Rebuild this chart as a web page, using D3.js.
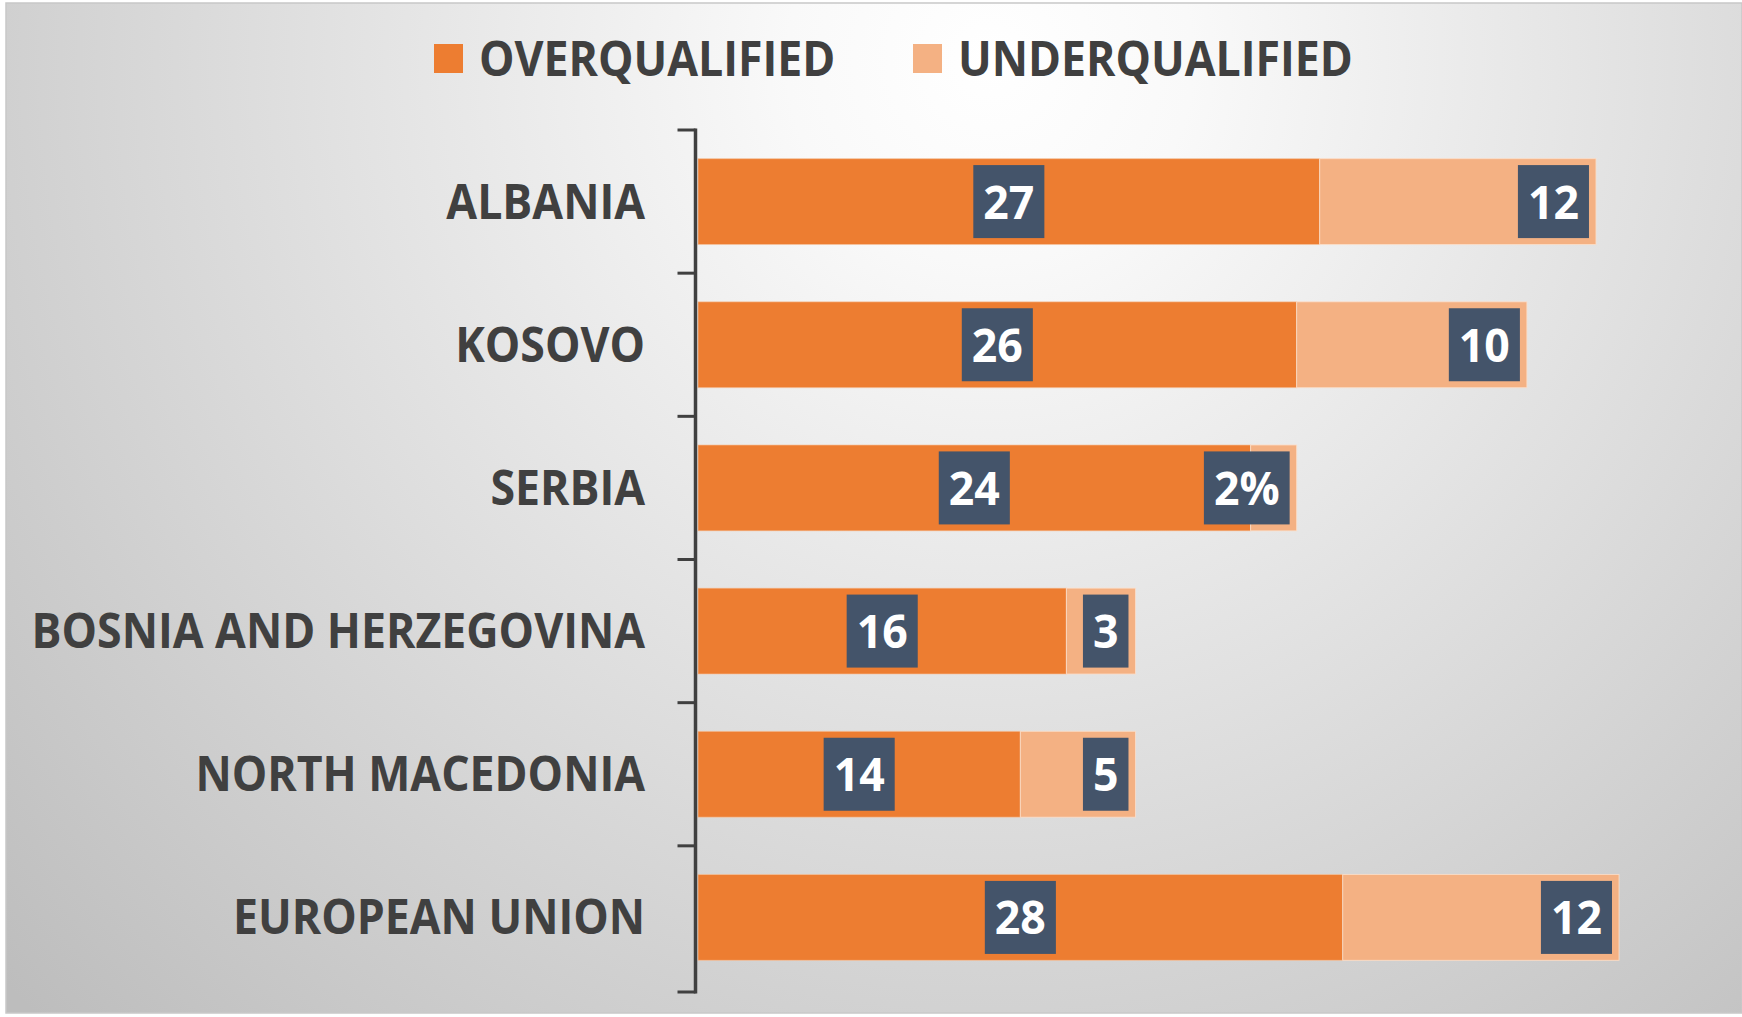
<!DOCTYPE html>
<html>
<head>
<meta charset="utf-8">
<script src="https://cdn.jsdelivr.net/npm/d3@7"></script>
<style>
  body { margin: 0; background: #fff; }
  svg { display: block; }
  text { font-family: "Open Sans", "Noto Sans", sans-serif; font-weight: 700; }
</style>
</head>
<body>
<svg id="chart" width="1742" height="1017"></svg>
<script>
// data
const countries = ["ALBANIA", "KOSOVO", "SERBIA", "BOSNIA AND HERZEGOVINA", "NORTH MACEDONIA", "EUROPEAN UNION"]
const overqualified = [27, 26, 24, 16, 14, 28]
const underqualified = [12, 10, 2, 3, 5, 12]
const underLabels = ["12", "10", "2%", "3", "5", "12"]
const seriesNames = ["OVERQUALIFIED", "UNDERQUALIFIED"]
const seriesColors = ["#ED7D31", "#F4B183"]

const W = 1742, H = 1017
const svg = d3.select("#chart")

// background with radial shading
const defs = svg.append("defs")
const grad = defs.append("radialGradient")
    .attr("id", "bg")
    .attr("gradientUnits", "userSpaceOnUse")
    .attr("cx", 990).attr("cy", 60).attr("r", 1350)
grad.append("stop").attr("offset", 0).attr("stop-color", "#ffffff")
grad.append("stop").attr("offset", 0.15).attr("stop-color", "#f9f9f9")
grad.append("stop").attr("offset", 1).attr("stop-color", "#bdbdbd")

svg.append("rect")
    .attr("x", 6).attr("y", 3)
    .attr("width", W - 6).attr("height", 1010)
    .attr("fill", "url(#bg)")
    .attr("stroke", "#c8c8c8")
    .attr("stroke-width", 1.5)

const rows = countries.map((c, i) => ({ name: c, over: overqualified[i], under: underqualified[i], label: underLabels[i] }))

const yScale = d3.scaleBand()
    .domain(countries)
    .range([130, 989])
    .paddingInner(0.4)
    .paddingOuter(0.2)

const xScale = d3.scaleLinear()
    .domain([0, 40])
    .range([698, 1619])

const step = yScale.step()
const axisX = 695.5

// category labels (slightly condensed to get the tall look)
svg.append("g")
    .selectAll("text")
    .data(rows)
    .join("text")
    .attr("transform", d => `translate(645,${yScale(d.name) + yScale.bandwidth() / 2 + 17}) scale(0.94,1)`)
    .attr("text-anchor", "end")
    .attr("font-size", 47.5)
    .attr("fill", "#404040")
    .text(d => d.name)

// bars
const barG = svg.append("g")
barG.selectAll(".bar-over")
    .data(rows)
    .join("rect")
    .attr("class", "bar-over")
    .attr("x", xScale(0))
    .attr("y", d => yScale(d.name))
    .attr("width", d => xScale(d.over) - xScale(0))
    .attr("height", yScale.bandwidth())
    .attr("fill", seriesColors[0])
    .attr("stroke", "#f7c9a8").attr("stroke-width", 1).attr("stroke-opacity", 0.6)

barG.selectAll(".bar-under")
    .data(rows)
    .join("rect")
    .attr("class", "bar-under")
    .attr("x", d => xScale(d.over))
    .attr("y", d => yScale(d.name))
    .attr("width", d => xScale(d.over + d.under) - xScale(d.over))
    .attr("height", yScale.bandwidth())
    .attr("fill", seriesColors[1])
    .attr("stroke", "#fbe0cc").attr("stroke-width", 1).attr("stroke-opacity", 0.8)

// axis line with ticks at the category boundaries
const axisG = svg.append("g").attr("class", "axis y-axis")
axisG.append("line")
    .attr("x1", axisX).attr("x2", axisX)
    .attr("y1", yScale.range()[0] - 1.5).attr("y2", yScale.range()[1] + 4.5)
    .attr("stroke", "#404040").attr("stroke-width", 3.5)

const boundaries = countries.map(c => yScale(c) - step * 0.2).concat([yScale.range()[1] + 3])
axisG.selectAll(".tick")
    .data(boundaries)
    .join("line")
    .attr("class", "tick")
    .attr("x1", axisX - 18).attr("x2", axisX)
    .attr("y1", d => d).attr("y2", d => d)
    .attr("stroke", "#404040").attr("stroke-width", 3)

// data labels in dark boxes
const boxH = 73, padX = 10, inset = 7
function addLabel(text, cx, cy, anchorRight) {
    const g = svg.append("g")
    const rect = g.append("rect").attr("fill", "#44546A")
    const t = g.append("text")
        .attr("font-size", 47)
        .attr("fill", "#ffffff")
        .attr("text-anchor", "middle")
        .text(text)
    const tw = t.node().getComputedTextLength() * 0.95
    const bw = tw + padX * 2
    const centerX = anchorRight ? cx - inset - bw / 2 : cx
    rect.attr("x", centerX - bw / 2).attr("y", cy - boxH / 2)
        .attr("width", bw).attr("height", boxH)
    t.attr("transform", `translate(${centerX},${cy + 17}) scale(0.95,1)`)
}

rows.forEach(d => {
    const cy = yScale(d.name) + yScale.bandwidth() / 2
    addLabel(String(d.over), (xScale(0) + xScale(d.over)) / 2, cy, false)
    addLabel(d.label, xScale(d.over + d.under), cy, true)
})

// legend
const legend = svg.append("g")
const legendX = [434, 913]
seriesNames.forEach((name, i) => {
    legend.append("rect")
        .attr("x", legendX[i]).attr("y", 44)
        .attr("width", 29).attr("height", 29)
        .attr("fill", seriesColors[i])
    legend.append("text")
        .attr("transform", `translate(${legendX[i] + 45},76) scale(0.94,1)`)
        .attr("font-size", 47.5)
        .attr("fill", "#404040")
        .text(name)
})
</script>
</body>
</html>
